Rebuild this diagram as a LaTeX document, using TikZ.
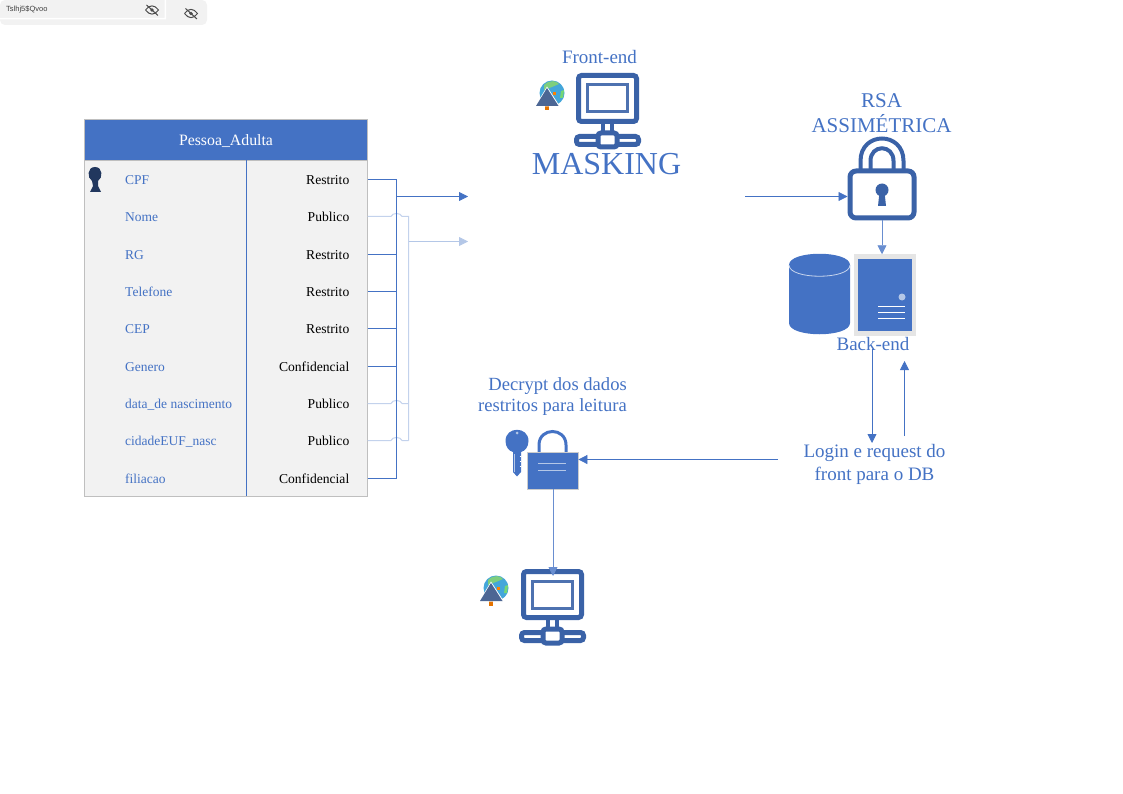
\documentclass[tikz,border=0pt]{standalone}
\usepackage{fontspec}
\setmainfont{Liberation Serif}
\newfontfamily\appfont{Liberation Sans}
\usetikzlibrary{arrows.meta}
\definecolor{azul}{HTML}{4472C4}
\definecolor{azulesc}{HTML}{3A62A7}
\definecolor{azulclaro}{HTML}{B4C7E7}
\definecolor{cinza}{HTML}{F2F2F2}
\tikzset{
  seta/.style={-{Triangle[length=9pt,width=9pt]},azul,line width=0.8pt},
  linha/.style={azul,line width=1pt},
  linhaclara/.style={azulclaro!80,line width=1pt},
  rotulo/.style={text=azul,font=\fontsize{19}{23}\selectfont,align=center,inner sep=0pt},
  campo/.style={text=azul,font=\fontsize{13.5}{15}\selectfont,anchor=base west,inner sep=0pt},
  nivel/.style={text=black,font=\fontsize{13.6}{15}\selectfont,anchor=base east,inner sep=0pt},
  icone/.style={draw=azulesc,line width=5pt,rounded corners=3pt},
  computador/.pic={
    \draw[icone] (-29,-23) rectangle (29,23);
    \draw[azulesc!90,line width=3pt] (-20,-13.5) rectangle (20,13.5);
    \draw[azulesc,line width=3.5pt] (-4.5,24) -- (-4.5,34) (4.5,24) -- (4.5,34);
    \draw[icone] (-31,38) rectangle (31,46);
    \draw[icone,fill=white] (-9.5,34.5) rectangle (9.5,48.5);
  },
  globo/.pic={
    \fill[azul!70!cyan!90!white] (0,0) circle (12.5);
    \fill[green!45!gray!70] (-8,-8) .. controls (-2,-14) and (5,-12) .. (7,-9) -- (0,-6) -- (-8,-3) -- cycle;
    \fill[green!55!gray!70] (9,-2) -- (12,-3) -- (11,5) -- (8,5) -- cycle;
    \fill[orange!90!black] (-7,13) rectangle (-3.5,17.5);
    \fill[orange] (1,-1) rectangle (4,2);
    \fill[white] (-17,13.5) -- (-5,-6.5) -- (8,13.5) -- cycle;
    \fill[black!20!azul!70!gray] (-16,13) -- (-5,-5) -- (6.5,13) -- cycle;
  },
  olho/.pic={
    \draw[black!70,line width=1pt] (-6.5,0) .. controls (-2.5,-5.5) and (2.5,-5.5) .. (6.5,0) .. controls (2.5,5.5) and (-2.5,5.5) .. (-6.5,0);
    \fill[black!70] (0,0) circle (1.8);
    \draw[black!70,line width=1pt] (-5.5,-5) -- (6,5.5);
  }
}
\begin{document}
\begin{tikzpicture}[x=1pt,y=-1pt]
\useasboundingbox (0,0) rectangle (1123,794);
% barra de senha
\fill[gray!10,rounded corners=5pt] (0,0) rectangle (207,25);
\fill[white] (0,18) rectangle (166,19.5) (164.5,0) rectangle (166,19.5);
\node[font=\appfont\fontsize{7.5}{9}\selectfont,text=black!75,anchor=west,inner sep=0pt] (senha) at (6,10) {Tslhj5\$Qvoo};
\pic at (152,10) {olho};
\pic at (191,13.5) {olho};
% tabela
\node[draw=black!25,fill=cinza,minimum width=283pt,minimum height=376pt,inner sep=0pt] (tabela) at (226,308) {};
\node[draw=black!25,fill=azul,minimum width=283pt,minimum height=41pt,inner sep=0pt,text=white,text height=11pt,text depth=0pt,font=\fontsize{15.8}{18}\selectfont] (cabecalho) at (226,140) {Pessoa\_Adulta};
\draw[azul,line width=1pt] (246.5,160) -- (246.5,496);
\foreach \i/\y/\c/\n in {1/184.7/CPF/Restrito,2/221.7/Nome/Publico,3/259/RG/Restrito,4/296/Telefone/Restrito,5/333/CEP/Restrito,6/371/Genero/Confidencial,7/408/data\_de nascimento/Publico,8/445/cidadeEUF\_nasc/Publico,9/483/filiacao/Confidencial}{
  \node[campo] (campo\i) at (125,\y) {\c};
  \node[nivel] (nivel\i) at (349.5,\y) {\n};
}
\foreach \i/\y in {1/179.5,2/216.5,3/254,4/291.5,5/328.5,6/366.5,7/403.5,8/440.5,9/478.5}{
  \coordinate (saida\i) at (367.5,\y);
}
% chave primaria
\fill[black!40!azul!80!black] (95,167) .. controls (103,167) and (103,178) .. (98,181) -- (98,186) -- (101,192) -- (90,192) -- (93,186) -- (92,181) .. controls (87,178) and (87,167) .. (95,167);
% conexoes
\coordinate (barra) at (396.5,196.5);
\coordinate (barraclara) at (408.5,241.5);
\coordinate (entrada) at (468,196.5);
\coordinate (entradaclara) at (468,241.5);
\draw[linhaclara] (saida2) -- (391,216.5) .. controls (392,212.5) and (401,212.5) .. (402,216.5) -- (408.5,216.5) -- (408.5,440.5);
\foreach \i in {7,8}{
  \draw[linhaclara] (saida\i) -- (391,0 |- saida\i) .. controls ([yshift=4pt]392,0 |- saida\i) and ([yshift=4pt]401,0 |- saida\i) .. (402,0 |- saida\i) -- (408.5,0 |- saida\i);
}
\draw[seta,azulclaro] (barraclara) -- (entradaclara);
\foreach \i in {1,3,4,5,6,9}{
  \draw[linha] (saida\i) -- (barra |- saida\i);
}
\draw[linha] (barra |- saida1) -- (barra |- saida9);
\draw[seta] (barra) -- (entrada);
% front-end
\node[rotulo] (frontend) at (599.5,57) {Front-end};
\pic at (607.5,98.5) {computador};
\pic at (552,93) {globo};
\node[rotulo,font=\fontsize{32}{36}\selectfont] (masking) at (606.5,164.5) {MASKING};
% rsa
\node[rotulo,font=\fontsize{21}{25}\selectfont] (rsa) at (881.5,113.5) {RSA\\ASSIMÉTRICA};
\draw[azulesc,line width=4pt] (860.5,170) -- (860.5,161) .. controls (860.5,131) and (903.5,131) .. (903.5,161) -- (903.5,170);
\draw[azulesc,line width=4pt] (870.5,170) -- (870.5,161) .. controls (870.5,144) and (893.5,144) .. (893.5,161) -- (893.5,170);
\node[draw=azulesc,fill=white,line width=5pt,rounded corners=6pt,minimum width=64pt,minimum height=47pt,inner sep=0pt] (cadeado) at (882,194.5) {};
\fill[azulesc] (882,190) circle (6.5) (879.5,192) -- (884.5,192) -- (886,206) -- (878,206) -- cycle;
% banco e servidor
\fill[azul] (789,265) -- (789,323) .. controls (789,338) and (850,338) .. (850,323) -- (850,265) .. controls (850,250) and (789,250) .. (789,265);
\draw[white!25!azulclaro,line width=0.8pt] (789,265) .. controls (789,280) and (850,280) .. (850,265);
\node[draw=black!10,fill=azul,line width=4.5pt,minimum width=58pt,minimum height=77pt,inner sep=0pt] (servidor) at (885,295) {};
\fill[azulclaro] (902,297) circle (3.5);
\draw[white,line width=1.5pt] (878,306.5) -- (905,306.5) (878,312.5) -- (905,312.5) (878,318.5) -- (905,318.5);
\node[rotulo] (backend) at (873,344) {Back-end};
\draw[seta,azul!80] (cadeado.south) -- (cadeado.south |- servidor.north);
% login
\node[rotulo,inner sep=1pt] (login) at (874.5,464.5) {Login e request do\\front para o DB};
\coordinate (desce1) at (872,349);
\coordinate (desce2) at (872,443);
\coordinate (sobe1) at (904.5,436);
\coordinate (sobe2) at (904.5,361);
\draw[seta] (desce1) -- (desce2);
\draw[seta] (sobe1) -- (sobe2);
\coordinate (mask) at (745,196.5);
\draw[seta] (mask) -- (mask -| cadeado.west);
% decrypt
\node[rotulo,align=right,anchor=east,font=\fontsize{18.6}{21.7}\selectfont] (decrypt) at (627,396.5) {Decrypt dos dados\\restritos para leitura};
\draw[azul,line width=3pt] (539,452) -- (539,445) .. controls (539,427) and (566,427) .. (566,445) -- (566,452);
\node[draw=black!20,fill=azul,line width=0.8pt,minimum width=51pt,minimum height=37pt,inner sep=0pt] (cadeado2) at (552.5,470.5) {};
\draw[azulclaro,line width=0.8pt] (538,463) -- (566,463) (538,470) -- (566,470);
% chave
\fill[azul] (505.5,441) .. controls (505.5,426) and (528.5,426) .. (528.5,441) .. controls (528.5,447) and (525,451) .. (521,452) -- (521,472) -- (517,476.5) -- (513,472) -- (513,452) .. controls (509,451) and (505.5,447) .. (505.5,441);
\fill[azulclaro] (517,433) circle (1.5);
\draw[azulclaro,line width=0.8pt] (514,454) -- (514,472);
\draw[white,line width=0.8pt] (519.5,456) -- (521,456) (519.5,461) -- (521,461) (519.5,466) -- (521,466);
% computador final
\pic at (552.5,594.5) {computador};
\pic at (496,588) {globo};
\coordinate (pc) at (553,576);
\coordinate (login1) at (778,459.5);
\draw[seta] (login1) -- (cadeado2.east |- login1);
\draw[seta,azul!80] (pc |- cadeado2.south) -- (pc);
\end{tikzpicture}
\end{document}
